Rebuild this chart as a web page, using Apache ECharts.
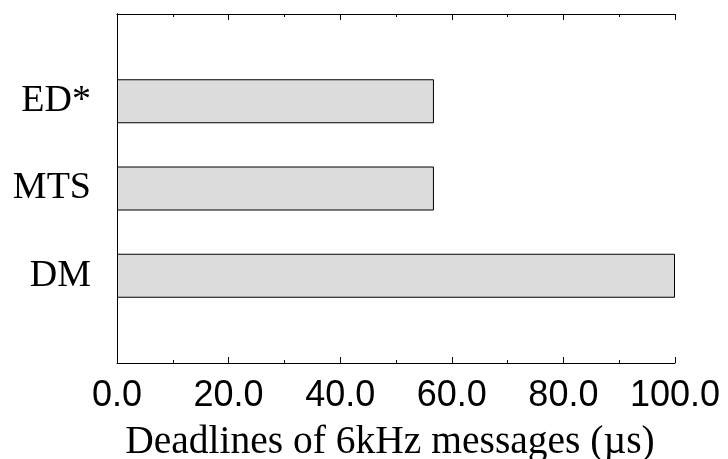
<!DOCTYPE html>
<html>
<head>
<meta charset="utf-8">
<script src="https://cdn.jsdelivr.net/npm/echarts@6/dist/echarts.min.js"></script>
<style>html,body{margin:0;padding:0;background:#fff;}#c{width:728px;height:459px;}</style>
</head>
<body>
<div id="c"></div>
<script>
var categories = ['DM', 'MTS', 'ED*'];
var values = [100, 56.8, 56.8];
var xTicks = [0, 20, 40, 60, 80, 100];
var xTitle = 'Deadlines of 6kHz messages (\u00b5s)';

// pad with empty slots so the three bars sit at 1/4, 2/4, 3/4 of the frame
var cats = [''].concat(categories, ['']);
var vals = [null].concat(values, [null]);

var chart = echarts.init(document.getElementById('c'), null, {renderer: 'canvas'});
var serif = '"Liberation Serif","DejaVu Serif",serif';
var sans = '"Liberation Sans",Arial,sans-serif';
chart.setOption({
  animation: false,
  backgroundColor: '#fff',
  grid: {left: 117, right: 53, top: 14, bottom: 96, containLabel: false, outerBoundsMode: 'none'},
  xAxis: [{
    type: 'value', min: xTicks[0], max: xTicks[xTicks.length - 1], interval: 20,
    position: 'bottom',
    axisLine: {show: true, lineStyle: {color: '#000', width: 1}},
    axisTick: {show: true, inside: true, length: 6, lineStyle: {color: '#000'}},
    minorTick: {show: true, splitNumber: 2, length: 3, lineStyle: {color: '#000'}},
    splitLine: {show: false},
    axisLabel: {fontFamily: sans, fontSize: 36, color: '#000', margin: 15,
      formatter: function (v) { return v.toFixed(1); }},
    name: xTitle, nameLocation: 'middle', nameGap: 60,
    nameTextStyle: {fontFamily: serif, fontSize: 39.5, color: '#000', padding: [0, 12, 0, 0]}
  }, {
    type: 'value', min: xTicks[0], max: xTicks[xTicks.length - 1], interval: 20,
    position: 'top',
    axisLine: {show: true, lineStyle: {color: '#000', width: 1}},
    axisTick: {show: true, inside: true, length: 6, lineStyle: {color: '#000'}},
    minorTick: {show: true, splitNumber: 2, length: 3, lineStyle: {color: '#000'}},
    splitLine: {show: false},
    axisLabel: {show: false}
  }],
  yAxis: [{
    type: 'category', data: cats, boundaryGap: false, position: 'left',
    axisLine: {show: true, lineStyle: {color: '#000', width: 1}},
    axisTick: {show: false},
    splitLine: {show: false},
    axisLabel: {fontFamily: serif, fontSize: 38, color: '#000', margin: 26}
  }, {
    type: 'category', data: cats, boundaryGap: false, position: 'right',
    axisLine: {show: true, lineStyle: {color: '#000', width: 1}},
    axisTick: {show: false},
    splitLine: {show: false},
    axisLabel: {show: false}
  }],
  series: [{
    type: 'bar', xAxisIndex: 0, yAxisIndex: 0,
    data: vals, barWidth: 44,
    itemStyle: {color: '#dcdcdc', borderColor: '#000', borderWidth: 1}
  }]
});
</script>
</body>
</html>
